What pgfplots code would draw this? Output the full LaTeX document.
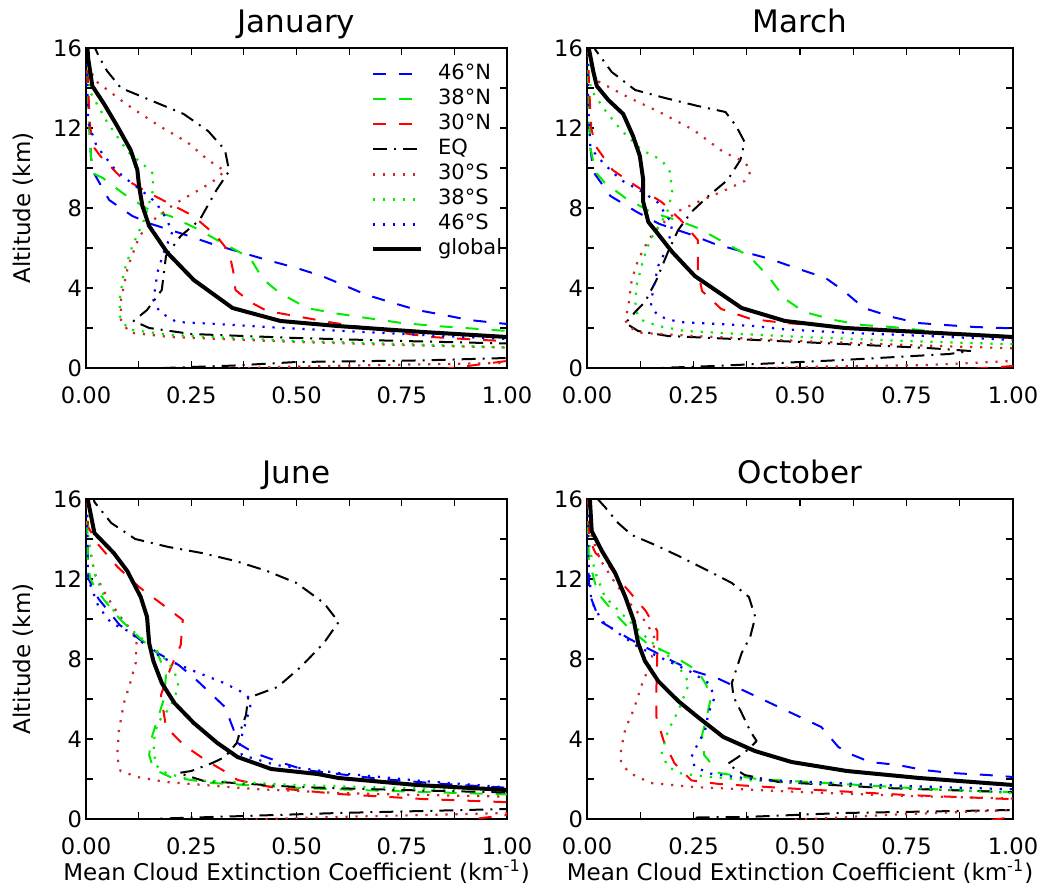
\documentclass[border=0pt]{standalone}
\usepackage{fontspec}
\setmainfont{DejaVu Sans}
\usepackage{pgfplots}
\pgfplotsset{compat=1.18}

\definecolor{cblue}{RGB}{0,0,255}
\definecolor{cgreen}{RGB}{0,235,0}
\definecolor{cred}{RGB}{255,0,0}
\definecolor{cbrown}{RGB}{205,40,40}

\pgfplotsset{
  panel/.style={
    scale only axis, height=160pt,
    xmin=0, xmax=1, ymin=0, ymax=16,
    xtick={0,0.25,0.5,0.75,1}, minor x tick num=1,
    ytick={0,4,8,12,16}, minor y tick num=1,
    tick align=inside,
    major tick length=3.5pt, minor tick length=3.5pt,
    every tick/.style={black, line width=0.6pt},
    axis line style={line width=0.8pt},
    /pgf/number format/assume math mode=true,
    tick label style={font=\fontsize{11.3}{13}\selectfont},
    xticklabel style={/pgf/number format/.cd, fixed, fixed zerofill, precision=2, /tikz/yshift=-6pt},
    yticklabel style={xshift=1.5pt},
    every axis title shift=0pt,
    title style={font=\fontsize{15.5}{18}\selectfont, at={(0.5,1)}, anchor=base, yshift=7.5pt},
    label style={font=\fontsize{11.5}{14}\selectfont},
    xlabel style={at={(axis description cs:0.5,0)}, anchor=base, yshift=-30.5pt},
    ylabel style={at={(axis description cs:-0.15,0.5)}, anchor=center},
    every axis plot/.append style={line join=round},
  },
  n46/.style={cblue, line width=1pt, dash pattern=on 6.5pt off 6.5pt},
  n38/.style={cgreen, line width=1pt, dash pattern=on 6.5pt off 6.5pt},
  n30/.style={cred, line width=1pt, dash pattern=on 6.5pt off 6.5pt},
  eq/.style={black, line width=1pt, dash pattern=on 7pt off 3.5pt on 1pt off 3.5pt},
  s30/.style={cbrown, line width=1.1pt, dash pattern=on 1.1pt off 3.9pt},
  s38/.style={cgreen, line width=1.1pt, dash pattern=on 1.1pt off 3.9pt},
  s46/.style={cblue, line width=1.1pt, dash pattern=on 1.1pt off 3.9pt},
  glob/.style={black, line width=2pt},
}

\begin{document}
\begin{tikzpicture}
\useasboundingbox (0,0) rectangle (521pt,444pt);

% ---------------- January ----------------
\begin{axis}[panel, width=210.5pt, at={(43pt,260pt)}, anchor=south west,
    title={January}, ylabel={Altitude (km)},
    legend style={draw=none, fill=none, at={(0.662,0.967)}, anchor=north west,
      font=\fontsize{10.5}{12}\selectfont, row sep=1pt, column sep=7pt,
      nodes={inner sep=0.5pt, text height=8pt, text depth=2.5pt}},
    legend cell align=left,
    legend image code/.code={\draw[#1] (0pt,0pt) -- (24pt,0pt);},
]
\addplot[n46] coordinates {(0.002,16.2) (0.004,14) (0.008,12) (0.012,10.5) (0.02,9.7) (0.055,8.4) (0.11,7.6) (0.155,7.2) (0.23,6.7) (0.3,6.2) (0.43,5.4) (0.5,5.0) (0.56,4.6) (0.6,4.25) (0.667,3.65) (0.73,3.25) (0.786,2.9) (0.85,2.65) (0.91,2.4) (0.976,2.25) (1.05,2.1)};
\addplot[n38] coordinates {(0.002,16.2) (0.004,14) (0.008,12) (0.012,10.5) (0.02,9.7) (0.04,9.5) (0.09,8.7) (0.15,7.9) (0.2,7.6) (0.26,7.0) (0.32,6.3) (0.39,5.5) (0.42,4.45) (0.46,3.75) (0.525,3.0) (0.587,2.75) (0.667,2.5) (0.75,2.25) (0.83,2.1) (0.9,2.0) (0.98,1.88) (1.05,1.8)};
\addplot[n30] coordinates {(0.002,16.2) (0.005,14) (0.01,12) (0.02,11.0) (0.034,10.6) (0.08,9.6) (0.145,8.8) (0.2,8.2) (0.255,7.6) (0.31,6.6) (0.34,5.8) (0.35,4.8) (0.355,3.9) (0.39,3.3) (0.43,2.85) (0.51,2.55) (0.59,2.25) (0.67,2.0) (0.75,1.75) (0.82,1.55) (0.94,1.4) (1.05,1.3) (1.3,1.0) (1.3,0.6) (1.0,0.35) (0.85,-0.05)};
\addplot[eq] coordinates {(0.015,16.3) (0.03,15.6) (0.05,14.85) (0.083,14.0) (0.152,13.4) (0.232,12.7) (0.29,11.85) (0.33,10.9) (0.34,9.85) (0.31,8.9) (0.27,7.4) (0.225,6.6) (0.19,5.6) (0.18,3.9) (0.145,2.9) (0.113,2.35) (0.15,2.0) (0.25,1.7) (0.5,1.5) (0.75,1.35) (1.05,1.2) (1.3,1.0) (1.3,0.6) (1.0,0.5) (0.8,0.38) (0.5,0.3) (0.35,0.12) (0.25,0.05) (0.12,-0.05)};
\addplot[s30] coordinates {(0.003,16.2) (0.01,15) (0.02,14.4) (0.095,13.2) (0.174,12.1) (0.24,11.3) (0.29,10.4) (0.33,9.85) (0.3,9.3) (0.26,8.8) (0.21,8.2) (0.16,7.4) (0.127,6.6) (0.1,5.1) (0.083,3.4) (0.083,2.4) (0.103,1.77) (0.2,1.55) (0.5,1.3) (0.75,1.15) (1.05,1.0) (1.3,0.8) (1.3,0.5) (1.0,0.25) (0.7,0.15) (0.45,0.05) (0.32,-0.05)};
\addplot[s38] coordinates {(0.002,16.2) (0.005,14.5) (0.01,13.8) (0.05,12.3) (0.1,10.8) (0.14,10.1) (0.16,9.7) (0.158,8.8) (0.138,7.4) (0.11,6.1) (0.09,4.8) (0.08,3.4) (0.08,2.6) (0.1,1.93) (0.2,1.65) (0.5,1.35) (0.75,1.2) (1.05,1.0)};
\addplot[s46] coordinates {(0.001,16.2) (0.003,14) (0.005,12.3) (0.025,11.1) (0.07,9.9) (0.105,9.3) (0.136,8.8) (0.165,8.3) (0.19,7.5) (0.205,6.8) (0.185,5.8) (0.17,4.8) (0.16,3.4) (0.175,2.8) (0.215,2.3) (0.31,2.2) (0.39,2.1) (0.47,2.0) (0.615,1.85) (0.8,1.65) (1.05,1.4)};
\addplot[glob] coordinates {(0.003,16.2) (0.005,15.5) (0.015,14.1) (0.043,13.2) (0.074,12.1) (0.106,10.9) (0.122,9.9) (0.126,9.1) (0.134,8.1) (0.15,7.1) (0.193,5.77) (0.256,4.4) (0.348,3.0) (0.462,2.35) (0.597,2.1) (0.8,1.8) (1.0,1.55) (1.05,1.5)};
\legend{46°N, 38°N, 30°N, EQ, 30°S, 38°S, 46°S, global}
\end{axis}

% ---------------- March ----------------
\begin{axis}[panel, width=213pt, at={(293.5pt,260pt)}, anchor=south west,
    title={March}]
\addplot[n46] coordinates {(0.001,16.2) (0.004,13) (0.008,11) (0.015,9.8) (0.055,8.6) (0.117,7.8) (0.17,7.2) (0.24,6.7) (0.3,6.2) (0.43,5.45) (0.49,5.0) (0.56,4.5) (0.6,3.9) (0.65,3.0) (0.716,2.55) (0.777,2.25) (0.84,2.15) (0.91,2.05) (0.975,2.0) (1.05,1.95)};
\addplot[n38] coordinates {(0.001,16.2) (0.004,13) (0.008,11) (0.02,9.8) (0.04,9.3) (0.09,8.5) (0.155,7.75) (0.21,7.4) (0.26,7.0) (0.32,6.3) (0.38,5.6) (0.425,4.6) (0.465,3.45) (0.51,2.8) (0.58,2.4) (0.645,2.15) (0.715,2.05) (0.78,1.9) (0.84,1.75) (0.9,1.7) (0.975,1.6) (1.05,1.55)};
\addplot[n30] coordinates {(0.002,16.2) (0.005,14) (0.01,12) (0.02,11.1) (0.06,9.9) (0.115,9.1) (0.175,8.3) (0.22,7.4) (0.26,6.4) (0.26,4.9) (0.27,3.85) (0.315,2.95) (0.385,2.45) (0.465,2.25) (0.6,2.05) (0.8,1.75) (1.05,1.45) (1.3,1.1) (1.3,0.4) (1.0,0.1) (0.9,-0.05)};
\addplot[eq] coordinates {(0.01,16.3) (0.02,15.9) (0.058,14.8) (0.113,13.9) (0.183,13.5) (0.26,13.1) (0.325,12.8) (0.35,12.1) (0.37,11.3) (0.36,10.4) (0.33,9.4) (0.285,8.6) (0.245,7.8) (0.214,6.9) (0.19,5.8) (0.163,4.4) (0.136,3.3) (0.113,2.8) (0.097,2.4) (0.09,2.25) (0.12,1.85) (0.19,1.6) (0.5,1.3) (0.8,1.0) (0.9,0.85) (0.85,0.7) (0.6,0.4) (0.3,0.1) (0.1,-0.05)};
\addplot[s30] coordinates {(0.003,16.2) (0.01,15) (0.02,14.4) (0.1,13.5) (0.17,12.8) (0.25,11.9) (0.32,10.8) (0.37,10.3) (0.385,9.85) (0.37,9.35) (0.32,8.85) (0.26,8.3) (0.21,7.8) (0.17,7.1) (0.144,6.4) (0.12,5.4) (0.105,4.4) (0.097,3.1) (0.09,2.4) (0.097,2.1) (0.12,1.77) (0.25,1.6) (0.5,1.35) (0.75,1.15) (1.05,0.95) (1.3,0.8) (1.3,0.5) (1.0,0.35) (0.8,0.15) (0.5,0.05) (0.37,-0.05)};
\addplot[s38] coordinates {(0.002,16.2) (0.005,14.5) (0.01,13.9) (0.042,12.9) (0.08,11.9) (0.128,10.9) (0.175,10.4) (0.195,9.8) (0.2,8.8) (0.19,7.9) (0.175,7.3) (0.148,6.4) (0.132,5.4) (0.116,4.1) (0.113,2.9) (0.128,2.4) (0.167,2.1) (0.23,1.85) (0.5,1.55) (0.75,1.35) (1.05,1.15)};
\addplot[s46] coordinates {(0.001,16.2) (0.003,13) (0.008,11) (0.04,10.2) (0.08,9.4) (0.13,8.8) (0.165,8.3) (0.2,7.2) (0.19,6.1) (0.167,5.1) (0.155,3.9) (0.15,3.1) (0.167,2.6) (0.214,2.3) (0.31,2.2) (0.39,2.1) (0.465,1.93) (0.6,1.77) (0.8,1.6) (1.05,1.35)};
\addplot[glob] coordinates {(0.003,16.2) (0.005,15.9) (0.015,14.8) (0.023,14.1) (0.05,13.4) (0.085,12.7) (0.108,11.6) (0.124,10.6) (0.132,9.4) (0.132,8.3) (0.144,7.3) (0.163,6.8) (0.2,5.8) (0.253,4.6) (0.308,3.8) (0.363,3.0) (0.465,2.35) (0.605,2.0) (0.78,1.8) (1.0,1.55) (1.05,1.5)};
\end{axis}

% ---------------- June ----------------
\begin{axis}[panel, width=210.5pt, at={(43pt,34.5pt)}, anchor=south west,
    title={June}, ylabel={Altitude (km)},
    xlabel={Mean Cloud Extinction Coefficient (km\textsuperscript{-1})}]
\addplot[n46] coordinates {(0.001,16.2) (0.003,14) (0.006,12) (0.03,11) (0.08,9.7) (0.12,9.1) (0.17,8.3) (0.22,7.7) (0.26,7.0) (0.29,6.4) (0.33,5.6) (0.35,4.5) (0.36,3.8) (0.4,3.3) (0.46,2.85) (0.52,2.45) (0.7,2.0) (0.85,1.75) (1.05,1.5)};
\addplot[n38] coordinates {(0.002,16.2) (0.004,13) (0.01,12.0) (0.03,11.3) (0.08,10.0) (0.13,9.0) (0.17,8.3) (0.19,7.2) (0.185,6.0) (0.17,5.0) (0.155,4.0) (0.15,3.2) (0.16,2.5) (0.2,2.1) (0.3,1.8) (0.5,1.55) (0.8,1.35) (1.05,1.2)};
\addplot[n30] coordinates {(0.002,16.2) (0.005,14.6) (0.03,13.7) (0.075,12.6) (0.126,11.6) (0.18,10.75) (0.23,9.95) (0.225,8.7) (0.2,7.5) (0.178,6.2) (0.19,4.6) (0.232,3.7) (0.28,3.0) (0.34,2.25) (0.36,1.95) (0.45,1.55) (0.6,1.25) (0.8,1.0) (1.05,0.8) (1.3,0.6) (1.3,0.4) (1.0,0.2) (0.9,-0.05)};
\addplot[eq] coordinates {(0.015,16.3) (0.02,15.85) (0.06,14.8) (0.117,14.0) (0.196,13.6) (0.275,13.3) (0.355,12.9) (0.43,12.4) (0.5,11.8) (0.565,10.8) (0.6,9.85) (0.565,8.8) (0.51,7.6) (0.455,6.6) (0.385,6.05) (0.38,5.2) (0.365,4.3) (0.358,3.8) (0.33,3.1) (0.3,2.8) (0.25,2.4) (0.22,2.3) (0.28,1.9) (0.5,1.6) (0.75,1.45) (1.05,1.3) (1.3,1.1) (1.3,0.7) (1.0,0.5) (0.6,0.3) (0.3,0.1) (0.19,0.03) (0.12,-0.05)};
\addplot[s30] coordinates {(0.002,16.2) (0.005,14) (0.02,12.3) (0.05,11.1) (0.082,10.1) (0.113,9.3) (0.12,8.8) (0.118,7.8) (0.105,6.8) (0.09,5.8) (0.078,4.4) (0.074,3.1) (0.082,2.4) (0.122,2.1) (0.19,1.85) (0.4,1.5) (0.6,1.3) (0.8,1.2) (1.05,1.1) (1.3,0.9) (1.3,0.5) (1.0,0.3) (0.7,0.15) (0.5,0.05) (0.38,-0.05)};
\addplot[s38] coordinates {(0.002,16.2) (0.005,14) (0.02,12.3) (0.05,10.8) (0.1,9.6) (0.14,8.9) (0.18,8.2) (0.21,7.4) (0.22,6.6) (0.2,5.6) (0.17,4.8) (0.16,3.8) (0.165,2.7) (0.19,2.3) (0.25,1.95) (0.5,1.7) (0.75,1.55) (1.05,1.4)};
\addplot[s46] coordinates {(0.001,16.2) (0.003,14) (0.005,12) (0.03,10.6) (0.06,9.8) (0.1,9.4) (0.177,8.1) (0.256,7.4) (0.328,6.8) (0.375,6.3) (0.39,6.0) (0.39,5.6) (0.375,4.5) (0.365,3.8) (0.37,3.2) (0.45,2.7) (0.6,2.3) (0.8,1.9) (1.05,1.5)};
\addplot[glob] coordinates {(0.003,16.2) (0.005,15.9) (0.02,14.3) (0.066,13.3) (0.098,12.4) (0.13,11.1) (0.145,10.1) (0.15,8.8) (0.16,7.9) (0.18,6.8) (0.21,5.8) (0.256,4.8) (0.312,3.8) (0.36,3.1) (0.44,2.5) (0.55,2.25) (0.6,2.05) (0.786,1.7) (1.0,1.45) (1.05,1.4)};
\end{axis}

% ---------------- October ----------------
\begin{axis}[panel, width=213pt, at={(293.5pt,34.5pt)}, anchor=south west,
    title={October},
    xlabel={Mean Cloud Extinction Coefficient (km\textsuperscript{-1})}]
\addplot[n46] coordinates {(0.001,16.2) (0.003,13) (0.005,11.3) (0.03,9.9) (0.1,9.0) (0.2,7.9) (0.25,7.4) (0.31,7.0) (0.375,6.35) (0.49,5.2) (0.55,4.6) (0.59,3.6) (0.624,3.2) (0.664,2.85) (0.73,2.7) (0.79,2.45) (0.855,2.3) (0.94,2.2) (1.0,2.1) (1.05,2.05)};
\addplot[n38] coordinates {(0.001,16.2) (0.004,13) (0.025,11.3) (0.06,10.4) (0.1,9.5) (0.14,8.8) (0.2,8.2) (0.26,7.4) (0.28,6.7) (0.29,6.0) (0.28,5.0) (0.27,4.2) (0.275,3.2) (0.31,2.3) (0.4,2.0) (0.6,1.75) (0.8,1.5) (1.05,1.3)};
\addplot[n30] coordinates {(0.002,16.2) (0.005,14) (0.02,13.3) (0.05,12.7) (0.09,11.6) (0.138,10.4) (0.165,9.4) (0.165,8.3) (0.163,6.6) (0.163,5.1) (0.18,3.9) (0.205,2.8) (0.245,1.93) (0.31,1.75) (0.5,1.5) (0.75,1.2) (1.05,0.95) (1.3,0.7) (1.3,0.5) (1.0,0.1) (0.95,-0.05)};
\addplot[eq] coordinates {(0.025,16.0) (0.042,15.6) (0.073,14.8) (0.105,14.2) (0.16,13.7) (0.22,13.1) (0.29,12.35) (0.34,11.8) (0.38,11.1) (0.395,10.1) (0.383,9.1) (0.363,8.3) (0.34,6.8) (0.344,6.1) (0.363,5.3) (0.383,4.4) (0.398,3.9) (0.38,3.5) (0.355,3.1) (0.33,2.75) (0.37,2.2) (0.45,1.85) (0.7,1.55) (1.05,1.3) (1.3,1.0) (1.3,0.7) (1.0,0.45) (0.6,0.3) (0.37,0.1) (0.26,0.08) (0.24,-0.05)};
\addplot[s30] coordinates {(0.002,16.2) (0.005,14.5) (0.03,13) (0.06,12) (0.1,10.8) (0.14,9.8) (0.16,9.0) (0.15,7.8) (0.13,6.8) (0.11,5.5) (0.09,4.5) (0.08,3.5) (0.08,2.8) (0.1,2.3) (0.15,1.8) (0.25,1.6) (0.5,1.35) (0.75,1.15) (1.05,1.0) (1.3,0.8) (1.3,0.5) (1.0,0.45) (0.7,0.2) (0.48,-0.05)};
\addplot[s38] coordinates {(0.002,16.2) (0.006,13.5) (0.02,12.3) (0.042,11.1) (0.08,10.3) (0.128,9.3) (0.175,8.4) (0.206,7.9) (0.24,6.8) (0.214,5.4) (0.19,4.4) (0.175,3.3) (0.19,2.6) (0.222,2.27) (0.29,2.1) (0.386,1.93) (0.6,1.75) (0.8,1.5) (1.05,1.25)};
\addplot[s46] coordinates {(0.001,16.2) (0.003,13) (0.01,10.9) (0.035,9.9) (0.073,9.3) (0.12,8.6) (0.15,8.3) (0.2,7.8) (0.24,7.4) (0.285,6.8) (0.3,6.1) (0.285,5.3) (0.277,4.4) (0.261,3.8) (0.245,3.1) (0.253,2.6) (0.29,2.27) (0.347,2.1) (0.425,1.93) (0.53,1.85) (0.75,1.65) (1.05,1.45)};
\addplot[glob] coordinates {(0.003,16.2) (0.007,15.9) (0.011,14.4) (0.035,13.4) (0.066,12.3) (0.09,11.1) (0.11,9.9) (0.12,8.8) (0.136,7.9) (0.167,6.9) (0.214,5.9) (0.26,5.1) (0.32,4.1) (0.394,3.4) (0.48,2.85) (0.61,2.4) (0.78,2.05) (1.0,1.7) (1.05,1.65)};
\end{axis}
\end{tikzpicture}
\end{document}
